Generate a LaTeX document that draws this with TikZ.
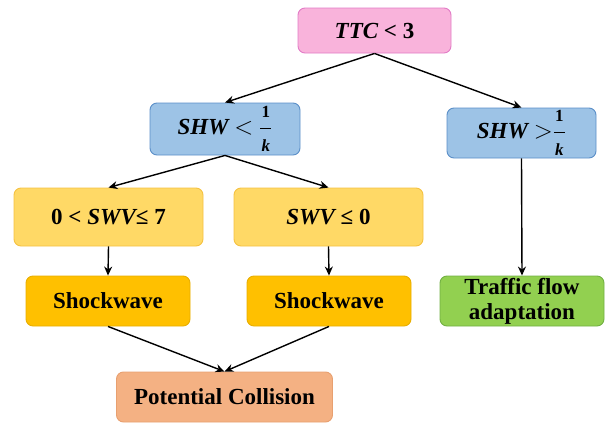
\documentclass[tikz,border=0pt]{standalone}
\usepackage{amsmath}
\usepackage{fontspec}
\setmainfont{Liberation Serif}
\usetikzlibrary{arrows.meta}
\definecolor{pinkF}{HTML}{F9B3DB}
\definecolor{pinkD}{HTML}{E27BC6}
\definecolor{blueF}{HTML}{9DC3E6}
\definecolor{blueD}{HTML}{5B8FC8}
\definecolor{yelF}{HTML}{FFD966}
\definecolor{yelD}{HTML}{F5C242}
\definecolor{goldF}{HTML}{FFC000}
\definecolor{goldD}{HTML}{E8AE00}
\definecolor{greenF}{HTML}{92D050}
\definecolor{greenD}{HTML}{72B043}
\definecolor{orF}{HTML}{F4B183}
\definecolor{orD}{HTML}{E8A070}
\newcommand{\fk}{\ensuremath{\displaystyle\frac{\hbox to 11pt{\hss\fontsize{17}{17}\selectfont\bfseries\upshape 1\hss}}{\hbox to 11pt{\hss\fontsize{17}{17}\selectfont\bfseries\itshape k\hss}}}}
\begin{document}
\begin{tikzpicture}[x=1pt,y=-1pt,
  box/.style={draw, line width=0.9pt, rounded corners=7pt, font=\bfseries\fontsize{23}{24}\selectfont, align=center, inner sep=0pt},
  arr/.style={-{Stealth[length=9pt,width=8pt]}, line width=1.4pt}]
\useasboundingbox (0,0) rectangle (606,423);
\node[box, fill=pinkF, draw=pinkD, minimum width=153pt, minimum height=45pt] (ttc) at (374.5,30.5) {\itshape TTC \upshape < 3};
\node[box, fill=blueF, draw=blueD, minimum width=150pt, minimum height=52pt] (shwl) at (225,129) {\itshape SHW $<$ \fk};
\node[box, fill=blueF, draw=blueD, minimum width=149pt, minimum height=50pt] (shwg) at (521.5,133) {\itshape SHW $>$\fk};
\node[box, fill=yelF, draw=yelD, minimum width=189pt, minimum height=58pt] (swv1) at (108.5,217) {0 < \itshape SWV\upshape≤ 7};
\node[box, fill=yelF, draw=yelD, minimum width=189pt, minimum height=58pt] (swv2) at (328.5,217) {\itshape SWV \upshape≤ 0};
\node[box, fill=goldF, draw=goldD, minimum width=164pt, minimum height=50pt] (sw1) at (108,301) {Shockwave};
\node[box, fill=goldF, draw=goldD, minimum width=164pt, minimum height=50pt] (sw2) at (329,301) {Shockwave};
\node[box, fill=greenF, draw=greenD, minimum width=164pt, minimum height=50pt, font=\bfseries\fontsize{23}{25}\selectfont] (tf) at (522,301) {Traffic flow\\adaptation};
\node[box, fill=orF, draw=orD, minimum width=216pt, minimum height=50pt] (pc) at (224.5,397) {Potential Collision};
\draw[arr] (ttc.south) -- (shwl.north);
\draw[arr] (ttc.south) -- (shwg.north);
\draw[arr] (shwl.south) -- (swv1.north);
\draw[arr] (shwl.south) -- (swv2.north);
\draw[arr] (swv1.south) -- (sw1.north);
\draw[arr] (swv2.south) -- (sw2.north);
\draw[arr] (shwg.south) -- (tf.north);
\draw[arr] (sw1.south) -- (pc.north);
\draw[arr] (sw2.south) -- (pc.north);
\end{tikzpicture}
\end{document}
